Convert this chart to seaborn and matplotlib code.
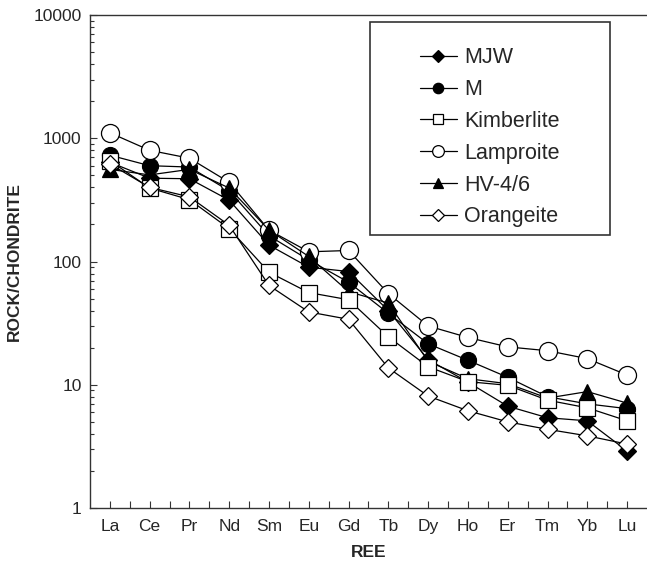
import numpy as np
import pandas as pd
import matplotlib
matplotlib.use("Agg")
import matplotlib.pyplot as plt
import seaborn as sns
from matplotlib.patches import Rectangle
from matplotlib.ticker import LogLocator, NullFormatter, FixedLocator

sns.set_style("ticks")
plt.rcParams['font.family'] = ['Liberation Sans', 'DejaVu Sans']

# chondrite-normalised REE values
ree = ['La', 'Ce', 'Pr', 'Nd', 'Sm', 'Eu', 'Gd', 'Tb', 'Dy', 'Ho', 'Er', 'Tm', 'Yb', 'Lu']
mjw = [640, 475, 470, 315, 136, 90, 83, 40, 16, 10.5, 6.7, 5.4, 5.1, 2.9]
m = [730, 600, 585, 375, 162, 103, 68, 38, 21.5, 15.8, 11.5, 8.0, 7.0, 6.4]
kimberlite = [660, 395, 318, 185, 82, 56, 49, 24.5, 14, 10.6, 9.9, 7.5, 6.5, 5.1]
lamproite = [1110, 800, 690, 440, 180, 120, 123, 55, 30, 24.2, 20.3, 18.9, 16.3, 12]
hv46 = [560, 505, 560, 395, 180, 110, 57, 46, 15.5, 11.2, 10.2, 7.8, 8.8, 7.1]
orangeite = [620, 400, 335, 197, 64, 39, 34, 13.7, 8.1, 6.15, 5.0, 4.35, 3.85, 3.3]

series = {
    'MJW': mjw, 'M': m, 'Kimberlite': kimberlite,
    'Lamproite': lamproite, 'HV-4/6': hv46, 'Orangeite': orangeite,
}
styles = {
    'MJW': dict(marker='D', mfc='black', ms=9.5),
    'M': dict(marker='o', mfc='black', ms=11.5),
    'Kimberlite': dict(marker='s', mfc='white', ms=12),
    'Lamproite': dict(marker='o', mfc='white', ms=13),
    'HV-4/6': dict(marker='^', mfc='black', ms=12),
    'Orangeite': dict(marker='D', mfc='white', ms=9.5),
}
draw_order = ['MJW', 'M', 'Lamproite', 'HV-4/6', 'Kimberlite', 'Orangeite']
legend_order = ['MJW', 'M', 'Kimberlite', 'Lamproite', 'HV-4/6', 'Orangeite']

df = pd.DataFrame(series)
df['pos'] = np.arange(len(ree))

fig = plt.figure(figsize=(6.47, 5.61), dpi=100)
ax = fig.add_axes([0.139, 0.0945, 0.861, 0.8785])

handles = {}
for z, name in enumerate(draw_order):
    st = styles[name]
    sns.lineplot(data=df, x='pos', y=name, ax=ax, color='black', lw=0.9,
                 marker=st['marker'], markersize=st['ms'],
                 markerfacecolor=st['mfc'], markeredgecolor='black',
                 markeredgewidth=0.9, zorder=3 + z)
    handles[name] = ax.lines[-1]

ax.set_yscale('log')
ax.set_ylim(1, 10000)
ax.set_xlim(-0.5, 13.5)
ax.set_xticks(range(len(ree)))
ax.set_xticklabels(ree)
ax.xaxis.set_minor_locator(FixedLocator(np.arange(0.5, 13.5, 1.0)))
ax.yaxis.set_minor_locator(LogLocator(base=10, subs=np.arange(2, 10)))
ax.yaxis.set_minor_formatter(NullFormatter())
ax.set_yticks([1, 10, 100, 1000, 10000])
ax.set_yticklabels(['1', '10', '100', '1000', '10000'])

ax.tick_params(axis='both', which='major', direction='in', length=5,
               width=0.8, labelsize=12.5, pad=6, color='#333333')
ax.tick_params(axis='x', which='minor', direction='in', length=5, width=0.8,
               color='#333333')
ax.tick_params(axis='y', which='minor', direction='in', length=3, width=0.8,
               color='#333333')
ax.tick_params(axis='x', which='major', pad=8)

ax.spines['right'].set_visible(False)
for s in ['left', 'bottom', 'top']:
    ax.spines[s].set_linewidth(1.0)
    ax.spines[s].set_color('#333333')

ax.set_xlabel('REE', fontsize=12.5, fontweight='bold', labelpad=8)
ax.set_ylabel('ROCK/CHONDRITE', fontsize=12.5, fontweight='bold', labelpad=8)

# legend frame drawn separately, entries centred inside
ax.add_patch(Rectangle((0.503, 0.554), 0.431, 0.432, transform=ax.transAxes,
                       fill=True, facecolor='white', edgecolor='#333333',
                       lw=1.2, zorder=20))
leg = ax.legend([handles[n] for n in legend_order], legend_order,
                loc='center', bbox_to_anchor=(0.718, 0.752), frameon=False,
                fontsize=15.5, handlelength=1.7, handletextpad=0.35,
                labelspacing=0.5, markerscale=0.65)
leg.set_zorder(21)

fig.savefig('out.png', dpi=100)
